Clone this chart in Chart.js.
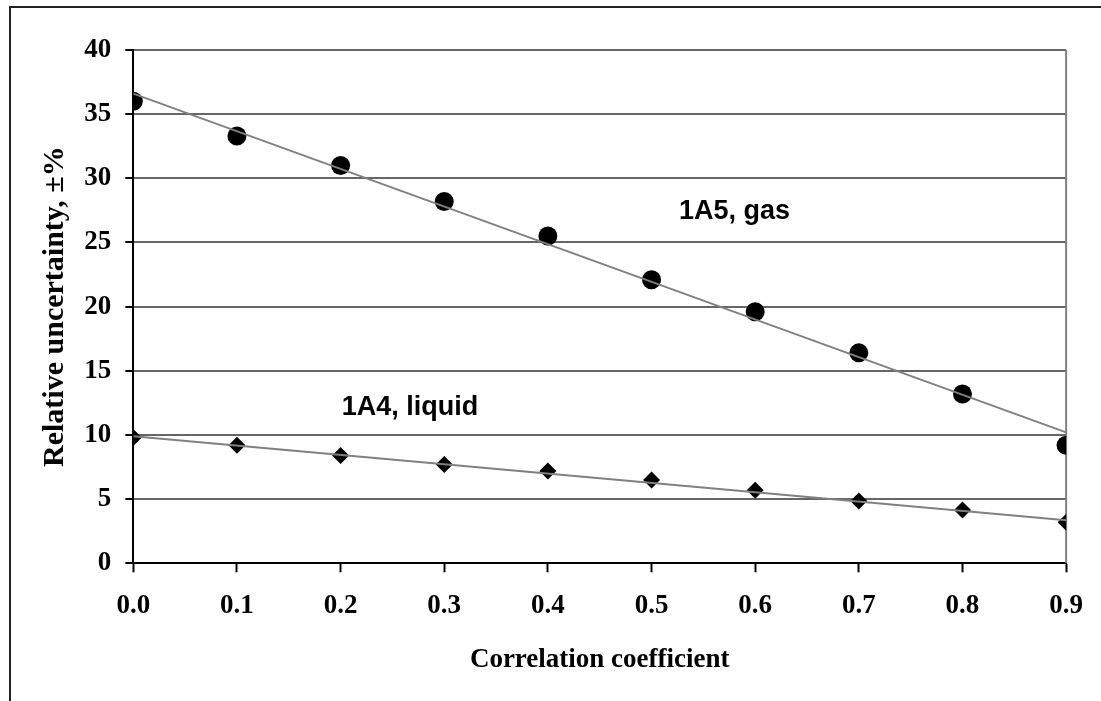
<!DOCTYPE html>
<html>
<head>
<meta charset="utf-8">
<script src="https://cdn.jsdelivr.net/npm/chart.js@4.4.1/dist/chart.umd.min.js"></script>
<style>
  html, body { margin: 0; padding: 0; background: #fff; }
  #wrap { position: relative; width: 1101px; height: 701px; }
  #frame { position: absolute; left: 9px; top: 6px; right: 0; bottom: 0;
           border-top: 2px solid #222; border-left: 2px solid #222; pointer-events: none; }
  canvas { position: absolute; left: 0; top: 0; }
</style>
</head>
<body>
<div id="wrap">
  <canvas id="myChart" width="1101" height="701"></canvas>
  <div id="frame"></div>
</div>
<script>
// data
const corrCoef = [0.0, 0.1, 0.2, 0.3, 0.4, 0.5, 0.6, 0.7, 0.8, 0.9];
const gasUnc = [36.0, 33.3, 31.0, 28.2, 25.5, 22.1, 19.6, 16.4, 13.2, 9.2];
const liquidUnc = [9.8, 9.2, 8.4, 7.7, 7.2, 6.5, 5.7, 4.85, 4.15, 3.2];

// trend line end points
const trendX = [0.0, 0.9];
const gasTrend = [36.6, 10.2];
const liquidTrend = [9.9, 3.35];

const seriesNames = ['1A5, gas', '1A4, liquid'];
const namePos = [[0.58, 27.45], [0.267, 12.1]]; // in data units

const toPts = (xs, ys) => xs.map((x, i) => ({ x: x, y: ys[i] }));

const serif = '"Liberation Serif", "Times New Roman", serif';
const sans = '"Liberation Sans", Arial, sans-serif';

// right edge of plot + series names
const extras = {
    id: 'extras',
    beforeDatasetsDraw(chart) {
        const { ctx, chartArea } = chart;
        ctx.save();
        ctx.strokeStyle = '#808080';
        ctx.lineWidth = 2;
        ctx.beginPath();
        ctx.moveTo(chartArea.right, chartArea.top);
        ctx.lineTo(chartArea.right, chartArea.bottom);
        ctx.stroke();
        ctx.restore();
    },
    afterDraw(chart) {
        const { ctx, scales } = chart;
        ctx.save();
        ctx.font = 'bold 27px ' + sans;
        ctx.fillStyle = '#000';
        ctx.textAlign = 'center';
        ctx.textBaseline = 'middle';
        seriesNames.forEach((t, i) => {
            ctx.fillText(t, scales.x.getPixelForValue(namePos[i][0]), scales.y.getPixelForValue(namePos[i][1]));
        });
        ctx.restore();
    }
};

const ctx = document.getElementById('myChart').getContext('2d');

new Chart(ctx, {
    type: 'scatter',
    data: {
        datasets: [
            { label: 'gas trend', data: toPts(trendX, gasTrend), showLine: true, borderColor: '#808080', borderWidth: 2, pointRadius: 0 },
            { label: 'liquid trend', data: toPts(trendX, liquidTrend), showLine: true, borderColor: '#808080', borderWidth: 2, pointRadius: 0 },
            { label: seriesNames[0], data: toPts(corrCoef, gasUnc), pointStyle: 'circle', pointRadius: 9.5, backgroundColor: '#000', borderColor: '#000', borderWidth: 0 },
            { label: seriesNames[1], data: toPts(corrCoef, liquidUnc), pointStyle: 'rectRot', pointRadius: 8.5, backgroundColor: '#000', borderColor: '#000', borderWidth: 0 }
        ]
    },
    options: {
        responsive: false,
        animation: false,
        devicePixelRatio: 1,
        layout: { padding: { top: 50, right: 31, left: 0, bottom: 0 } },
        plugins: { legend: { display: false }, tooltip: { enabled: false } },
        scales: {
            x: {
                type: 'linear', min: 0, max: 0.9,
                afterFit: (s) => { s.height = 137.7; },
                ticks: { stepSize: 0.1, padding: 18, color: '#000',
                         font: { family: serif, size: 27, weight: 'bold' },
                         callback: (v) => v.toFixed(1) },
                grid: { drawOnChartArea: false, drawTicks: true, tickLength: 9, tickColor: '#000', tickWidth: 2 },
                border: { color: '#000', width: 2 },
                title: { display: true, text: 'Correlation coefficient', color: '#000',
                         font: { family: serif, size: 27, weight: 'bold' }, padding: { top: 0, bottom: 25 } }
            },
            y: {
                min: 0, max: 40,
                afterFit: (s) => { s.width = 133.3; },
                ticks: { stepSize: 5, padding: 14, color: '#000',
                         font: { family: serif, size: 27, weight: 'bold' } },
                grid: { color: '#666', lineWidth: 2, tickLength: 8, tickColor: '#000', tickWidth: 2 },
                border: { color: '#000', width: 2 },
                title: { display: true, text: 'Relative uncertainty, \u00b1%', color: '#000',
                         font: { family: serif, size: 30, weight: 'bold' }, padding: { top: 37, bottom: 0 } }
            }
        }
    },
    plugins: [extras]
});
</script>
</body>
</html>
